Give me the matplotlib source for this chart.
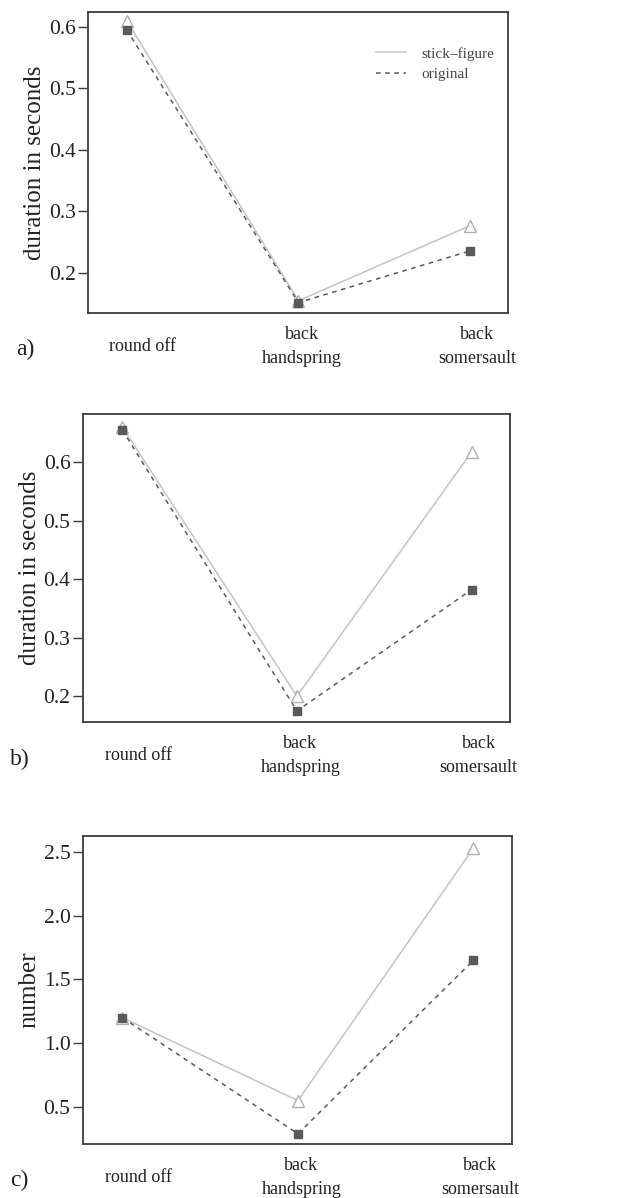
import numpy as np
import matplotlib
matplotlib.use("Agg")
import matplotlib.pyplot as plt
import matplotlib.transforms as mtransforms

plt.rcParams['font.family'] = ['Liberation Serif', 'DejaVu Serif']
plt.rcParams['font.size'] = 13
plt.rcParams['ytick.direction'] = 'out'
plt.rcParams['ytick.major.size'] = 7.0

# data
categories = ["round off", "back\nhandspring", "back\nsomersault"]
x = [1, 2, 3]

a_stick = [0.610, 0.155, 0.277]
a_orig = [0.595, 0.152, 0.236]
b_stick = [0.660, 0.200, 0.617]
b_orig = [0.655, 0.175, 0.382]
c_stick = [1.20, 0.55, 2.53]
c_orig = [1.20, 0.29, 1.65]

panels = [
    dict(stick=a_stick, orig=a_orig, ylab="duration in seconds", letter="a)",
         yticks=[0.2, 0.3, 0.4, 0.5, 0.6], fmt="{:.1f}", ylim=(0.135, 0.624),
         pos=[0.1386, 0.7387, 0.6614, 0.2513], legend=True),
    dict(stick=b_stick, orig=b_orig, ylab="duration in seconds", letter="b)",
         yticks=[0.2, 0.3, 0.4, 0.5, 0.6], fmt="{:.1f}", ylim=(0.156, 0.682),
         pos=[0.1307, 0.3973, 0.6724, 0.2571], legend=False),
    dict(stick=c_stick, orig=c_orig, ylab="number", letter="c)",
         yticks=[0.5, 1.0, 1.5, 2.0, 2.5], fmt="{:.1f}", ylim=(0.21, 2.625),
         pos=[0.1307, 0.0451, 0.6756, 0.2571], legend=False),
]

stick_col = "#c4c4c4"
orig_col = "#5a5a5a"
spine_col = "#3c3c3c"

fig = plt.figure(figsize=(6.35, 11.98), dpi=100)

for p in panels:
    ax = fig.add_axes(p["pos"])
    ax.plot(x, p["stick"], color=stick_col, lw=1.1, ls="-", label="stick\u2013figure")
    ax.plot(x, p["orig"], color=orig_col, lw=1.1, ls=(0, (3, 3)), label="original")
    ax.plot(x, p["stick"], ls="none", marker="^", ms=9, mfc="white",
            mec="#b0b0b0", mew=1.0)
    ax.plot(x, p["orig"], ls="none", marker="s", ms=5.5, color=orig_col)
    ax.set_xlim(0.775, 3.22)
    ax.set_ylim(*p["ylim"])
    ax.set_yticks(p["yticks"])
    ax.set_yticklabels([p["fmt"].format(v) for v in p["yticks"]], fontsize=15.5)
    ax.tick_params(axis="y", colors=spine_col, labelcolor="#222222", width=1.0, pad=2)
    ax.set_xticks([])
    for s in ax.spines.values():
        s.set_color(spine_col)
        s.set_linewidth(1.3)
    ax.set_ylabel(p["ylab"], fontsize=18, color="#222222", labelpad=2)

    trans = mtransforms.blended_transform_factory(ax.transData, ax.transAxes)
    for xi, lab, dx in zip(x, categories, [0.09, 0.02, 0.04]):
        ax.text(xi + dx, -0.11, lab, transform=trans, ha="center", va="center",
                fontsize=13, color="#222222", linespacing=1.55)
    ax.text(-0.17, -0.12, p["letter"], transform=ax.transAxes, ha="left",
            va="center", fontsize=17, color="#222222")

    if p["legend"]:
        ax.legend(loc="upper right", frameon=False, fontsize=11, handlelength=2.0,
                  bbox_to_anchor=(1.0, 0.93), labelspacing=0.45, handletextpad=1.0,
                  labelcolor="#444444")

fig.savefig("out.png", dpi=100)
